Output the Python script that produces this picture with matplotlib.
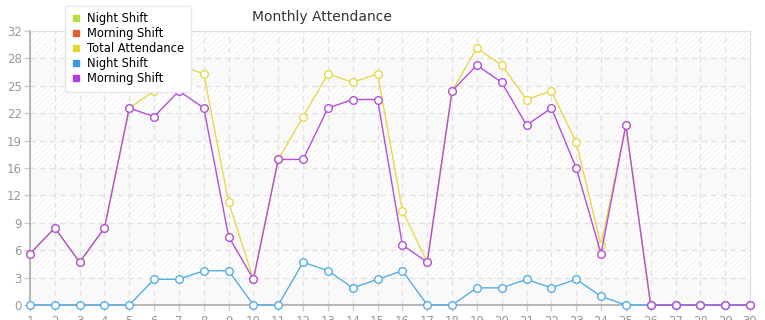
import matplotlib
matplotlib.use("Agg")
from matplotlib import pyplot as plt
from matplotlib.lines import Line2D
import numpy as np

# datos del mes
days = list(range(1, 31))
night = [0, 0, 0, 0, 0, 3, 3, 4, 4, 0, 0, 5, 4, 2, 3, 4, 0, 0, 2, 2,
         3, 2, 3, 1, 0, 0, 0, 0, 0, 0]
morning = [6, 9, 5, 9, 23, 22, 25, 23, 8, 3, 17, 17, 23, 24, 24, 7, 5, 25, 28, 26,
           21, 23, 16, 6, 21, 0, 0, 0, 0, 0]
total = [6, 9, 5, 9, 23, 25, 28, 27, 12, 3, 17, 22, 27, 26, 27, 11, 5, 25, 30, 28,
         24, 25, 19, 7, 21, 0, 0, 0, 0, 0]

legend_names = ['Night Shift', 'Morning Shift', 'Total Attendance', 'Night Shift', 'Morning Shift']
legend_colors = ['#b5e03a', '#e0622e', '#e3d62e', '#3a9be0', '#b23ce0']

c_total = '#e6d94a'
c_night = '#55aee6'
c_morning = '#b44fd8'

ymax = 32
yticks = np.linspace(0, ymax, 11)

plt.rcParams['hatch.linewidth'] = 0.5
fig = plt.figure(figsize=(7.65, 3.2), dpi=100)
ax = fig.add_axes([30/765, 15/320, 720/765, 274/320])

# bandas de fondo
for i in range(10):
    lo, hi = yticks[i], yticks[i+1]
    if i % 2 == 1:
        ax.axhspan(lo, hi, facecolor='white', edgecolor='#eeeeee', hatch='//////',
                   linewidth=0, zorder=0)
    else:
        ax.axhspan(lo, hi, facecolor='#f9f9f9', linewidth=0, zorder=0)

ax.grid(True, color='#e2e2e2', linestyle=(0, (4, 3)), linewidth=1, zorder=1)

kw = dict(marker='o', markerfacecolor='white', markersize=5.5,
          markeredgewidth=1, linewidth=1, clip_on=False, zorder=3)
ax.plot(days, total, color=c_total, **kw)
ax.plot(days, night, color=c_night, **kw)
ax.plot(days, morning, color=c_morning, **kw)

ax.set_xlim(1, 30)
ax.set_ylim(0, ymax)
ax.set_xticks(days)
ax.set_yticks(yticks)
ax.set_yticklabels([str(int(np.floor(v + 1e-9))) for v in yticks])
ax.tick_params(axis='both', colors='#cccccc', labelcolor='#999999',
               labelsize=8.5, length=4, width=1)
ax.tick_params(axis='x', pad=3)
ax.tick_params(axis='y', pad=2)

for s in ['top', 'right']:
    ax.spines[s].set_color('#dddddd')
for s in ['left', 'bottom']:
    ax.spines[s].set_color('#aaaaaa')
    ax.spines[s].set_linewidth(1.2)
ax.set_axisbelow(True)

fig.text(322/765, 1 - 17/320, 'Monthly Attendance', ha='center', va='center',
         fontsize=10, color='#333333')

handles = [Line2D([], [], linestyle='none', marker='s', markersize=5,
                  markerfacecolor=c, markeredgecolor=c) for c in legend_colors]
leg = fig.legend(handles, legend_names, loc='upper left',
                 bbox_to_anchor=(65/765, 1 - 6/320), fontsize=8.3,
                 frameon=True, fancybox=True, framealpha=1,
                 edgecolor='#e6e6e6', handlelength=0.8, handletextpad=0.6,
                 labelspacing=0.17, borderpad=0.55, borderaxespad=0)
leg.set_zorder(10)

fig.savefig('out.png', dpi=100)
